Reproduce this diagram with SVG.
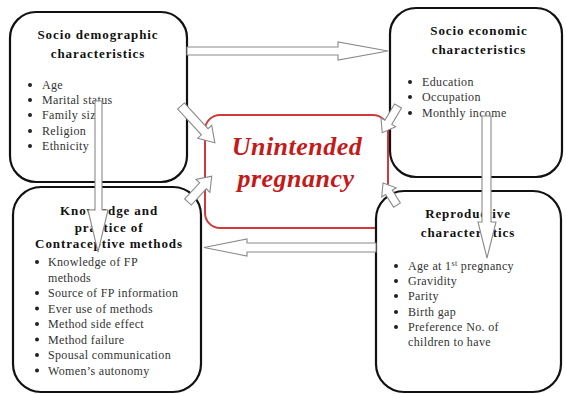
<svg xmlns="http://www.w3.org/2000/svg" width="566" height="394" viewBox="0 0 566 394">
<style>
.box{fill:#fff;stroke:#111;stroke-width:2.2}
.core{fill:#fff;stroke:#cf3b3b;stroke-width:2}
.hd{font-family:"Liberation Serif",serif;font-weight:bold;font-size:13px;letter-spacing:0.9px;fill:#111;text-anchor:middle}
.bd{font-family:"Liberation Serif",serif;font-size:12px;letter-spacing:0.35px;fill:#333}
.ct{font-family:"Liberation Serif",serif;font-weight:bold;font-style:italic;font-size:26px;letter-spacing:0.5px;fill:#c41a1a;text-anchor:middle}
.dot{fill:#222}
.arr{fill:#fff;stroke:#8a8a8a;stroke-width:1.1;stroke-linejoin:miter}
</style>
<rect width="566" height="394" fill="#fff"/>

<g id="unintended-pregnancy">
<rect class="core" x="205" y="115" width="183" height="113" rx="15"/>
<text class="ct" x="297" y="155">Unintended</text>
<text class="ct" x="296" y="187">pregnancy</text>
</g>

<g id="socio-demographic">
<rect class="box" x="10" y="12" width="177" height="170" rx="26"/>
<text class="hd" x="98" y="39">Socio demographic</text>
<text class="hd" x="98" y="58">characteristics</text>
<circle class="dot" cx="30" cy="85" r="2"/><text class="bd" x="42" y="89">Age</text>
<circle class="dot" cx="30" cy="100" r="2"/><text class="bd" x="42" y="104">Marital status</text>
<circle class="dot" cx="30" cy="115" r="2"/><text class="bd" x="42" y="119">Family size</text>
<circle class="dot" cx="30" cy="131" r="2"/><text class="bd" x="42" y="135">Religion</text>
<circle class="dot" cx="30" cy="146" r="2"/><text class="bd" x="42" y="150">Ethnicity</text>
</g>

<g id="socio-economic">
<rect class="box" x="390" y="8" width="172" height="169" rx="26"/>
<text class="hd" x="479" y="35">Socio economic</text>
<text class="hd" x="479" y="54">characteristics</text>
<circle class="dot" cx="410" cy="82" r="2"/><text class="bd" x="422" y="86">Education</text>
<circle class="dot" cx="410" cy="97" r="2"/><text class="bd" x="422" y="101">Occupation</text>
<circle class="dot" cx="410" cy="113" r="2"/><text class="bd" x="422" y="117">Monthly income</text>
</g>

<g id="knowledge-practice">
<rect class="box" x="13" y="187" width="188" height="205" rx="28"/>
<text class="hd" x="109" y="215">Knowledge and</text>
<text class="hd" x="109" y="232">practice of</text>
<text class="hd" x="109" y="248">Contraceptive methods</text>
<circle class="dot" cx="37" cy="262" r="2"/><text class="bd" x="48" y="266">Knowledge of FP</text>
<text class="bd" x="48" y="281.5">methods</text>
<circle class="dot" cx="37" cy="293" r="2"/><text class="bd" x="48" y="297">Source of FP information</text>
<circle class="dot" cx="37" cy="308.5" r="2"/><text class="bd" x="48" y="312.5">Ever use of  methods</text>
<circle class="dot" cx="37" cy="324" r="2"/><text class="bd" x="48" y="328">Method side effect</text>
<circle class="dot" cx="37" cy="339.5" r="2"/><text class="bd" x="48" y="343.5">Method failure</text>
<circle class="dot" cx="37" cy="355" r="2"/><text class="bd" x="48" y="359">Spousal communication</text>
<circle class="dot" cx="37" cy="370.5" r="2"/><text class="bd" x="48" y="374.5">Women’s autonomy</text>
</g>

<g id="reproductive">
<rect class="box" x="376" y="191" width="185" height="201" rx="28"/>
<text class="hd" x="468" y="218">Reproductive</text>
<text class="hd" x="468" y="237">characteristics</text>
<circle class="dot" cx="396" cy="266" r="2"/><text class="bd" x="408" y="270">Age at 1<tspan font-size="8" dy="-4.5">st</tspan><tspan dy="4.5"> pregnancy</tspan></text>
<circle class="dot" cx="396" cy="281" r="2"/><text class="bd" x="408" y="285">Gravidity</text>
<circle class="dot" cx="396" cy="296" r="2"/><text class="bd" x="408" y="300">Parity</text>
<circle class="dot" cx="396" cy="312" r="2"/><text class="bd" x="408" y="316">Birth gap</text>
<circle class="dot" cx="396" cy="327" r="2"/><text class="bd" x="408" y="331">Preference No. of</text>
<text class="bd" x="408" y="346">children to have</text>
</g>

<g id="connectors">
<polygon class="arr" points="187,47 338,47 338,42 388,51 338,60 338,55 187,55"/>
<polygon class="arr" points="376,243 247,243 247,239 204,247.5 247,256 247,252 376,252"/>
<polygon class="arr" points="95,101 102,101 102,210 108,210 98,252 88,210 95,210"/>
<polygon class="arr" points="482,116 491,116 491,222 496,222 487,258 478,222 482,222"/>
<polygon class="arr" transform="translate(181,106) rotate(47.4)" points="0,-4.5 35,-4.5 35,-9.5 50,0 35,9.5 35,4.5 0,4.5"/>
<polygon class="arr" transform="translate(188,202) rotate(-47.3)" points="0,-4.5 22,-4.5 22,-9.5 35,0 22,9.5 22,4.5 0,4.5"/>
<polygon class="arr" transform="translate(398,106) rotate(120.6)" points="0,-4 19,-4 19,-8.5 31,0 19,8.5 19,4 0,4"/>
<polygon class="arr" transform="translate(397,205) rotate(-122.5)" points="0,-4 15,-4 15,-8.5 26,0 15,8.5 15,4 0,4"/>
</g>
</svg>
